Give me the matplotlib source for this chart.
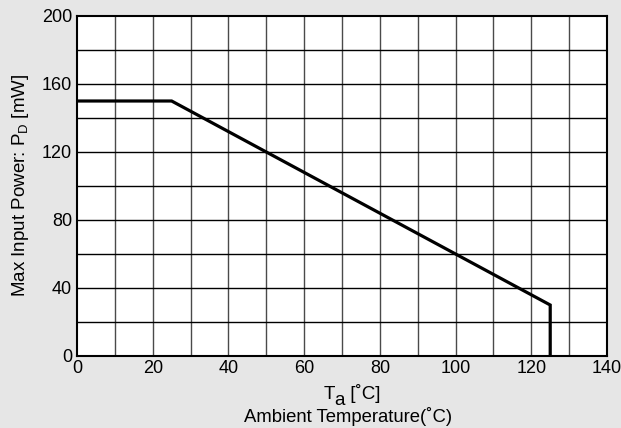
import matplotlib
matplotlib.use("Agg")
import matplotlib.pyplot as plt

plt.rcParams['font.family'] = ['Liberation Sans', 'DejaVu Sans']
plt.rcParams['mathtext.fontset'] = 'custom'
plt.rcParams['mathtext.rm'] = 'Liberation Sans'
plt.rcParams['mathtext.it'] = 'Liberation Sans'

temp = [0, 25, 125, 125]
power = [150, 150, 30, 0]
xticks = [0, 20, 40, 60, 80, 100, 120, 140]
yticks = [0, 40, 80, 120, 160, 200]

W, H = 621, 428
fig = plt.figure(figsize=(W / 100, H / 100), dpi=100, facecolor='#e6e6e6')
ax = fig.add_axes([77 / W, 1 - 356 / H, (607 - 77) / W, (356 - 16) / H])
ax.set_facecolor('white')
ax.set_xlim(0, 140)
ax.set_ylim(0, 200)
for x in range(10, 140, 10):
    ax.axvline(x, color='#4a4a4a', lw=1.0, zorder=1)
for y in range(20, 200, 20):
    ax.axhline(y, color='black', lw=1.0, zorder=1)
ax.plot(temp, power, color='black', lw=2.3, zorder=3, solid_joinstyle='miter')
ax.set_xticks(xticks)
ax.set_yticks(yticks)
ax.tick_params(length=0, labelsize=13)
ax.tick_params(axis='x', pad=3)
ax.tick_params(axis='y', pad=3.5)
for s in ax.spines.values():
    s.set_linewidth(1.5)

fig.text(21 / W, 1 - 185 / H, 'Max Input Power: P$_\\mathregular{D}$ [mW]',
         rotation=90, ha='center', va='center', fontsize=13.5)

# "T_a [˚C]" composed from pieces
fig.canvas.draw()
r = fig.canvas.get_renderer()
fs = 13.5
y0 = 1 - 399 / H
tT = fig.text(0, y0, 'T', fontsize=fs, ha='left', va='baseline')
ta = fig.text(0, y0 - 6 / H, 'a', fontsize=fs, ha='left', va='baseline')
tc = fig.text(0, y0, ' [˚C]', fontsize=fs, ha='left', va='baseline')
wT = tT.get_window_extent(r).width
wa = ta.get_window_extent(r).width
wc = tc.get_window_extent(r).width
total = wT + wa + wc
x0 = 352 - total / 2
tT.set_x(x0 / W)
ta.set_x((x0 + wT) / W)
tc.set_x((x0 + wT + wa) / W)

fig.text(348 / W, 1 - 417 / H, 'Ambient Temperature(˚C)', fontsize=13.3,
         ha='center', va='center')
fig.savefig('out.png', dpi=100, facecolor=fig.get_facecolor())
